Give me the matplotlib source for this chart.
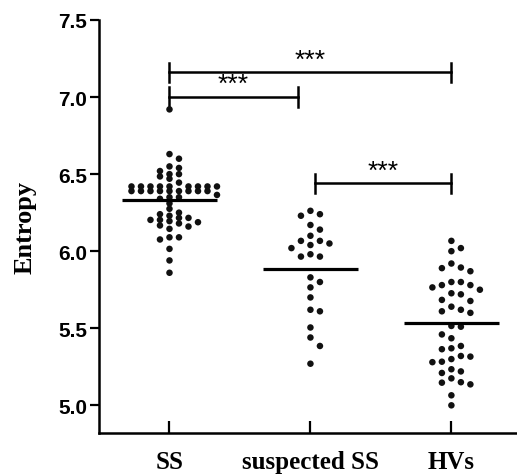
import matplotlib.pyplot as plt
import numpy as np

# grupy i wartosci entropii
grupy = ["SS", "suspected SS", "HVs"]
ss = [6.92, 6.63, 6.60, 6.55, 6.54, 6.52, 6.50, 6.50, 6.485, 6.47,
      6.42, 6.42, 6.42, 6.42, 6.42, 6.42, 6.42, 6.42, 6.42,
      6.39, 6.39, 6.39, 6.39, 6.39, 6.39, 6.39, 6.39, 6.39,
      6.445, 6.365, 6.35, 6.35, 6.34,
      6.31, 6.275, 6.25, 6.24, 6.23, 6.216, 6.216, 6.203, 6.203, 6.195,
      6.188, 6.18, 6.167, 6.16, 6.145, 6.09, 6.09, 6.076, 6.015, 5.94, 5.86]
podejrzane = [6.262, 6.24, 6.23, 6.17, 6.14, 6.10, 6.067, 6.067, 6.05, 6.04,
              6.02, 5.98, 5.965, 5.965, 5.83, 5.80, 5.765, 5.70, 5.62, 5.61,
              5.505, 5.44, 5.385, 5.27]
hv = [6.067, 6.02, 6.00, 5.92, 5.894, 5.89, 5.87, 5.80, 5.80, 5.78, 5.78,
      5.765, 5.75, 5.727, 5.72, 5.684, 5.677, 5.64, 5.62, 5.61, 5.60,
      5.515, 5.51, 5.46, 5.435, 5.385, 5.37, 5.364, 5.32, 5.316, 5.30,
      5.283, 5.28, 5.234, 5.22, 5.21, 5.175, 5.15, 5.147, 5.136, 5.065, 5.00]
srednie = [6.33, 5.883, 5.537]

# porownania: (od, do, wysokosc)
porownania = [(0, 2, 7.16), (0, 0.91, 7.0), (1.03, 2, 6.44)]

fig = plt.figure(figsize=(5.17, 4.77), dpi=100)
ax = fig.add_axes([0.1915, 0.090, 0.807, 0.866])
ax.set_xlim(-0.5, 2.46)
ax.set_ylim(4.82, 7.5)


#rozmieszczenie punktow - wiersze jak w GraphPad
def rozrzut(wartosci, srodek, odstep, krok=9.5, wiersz=0.04):
    wartosci = np.array(wartosci)
    pts = ax.transData.transform(np.column_stack([np.full(len(wartosci), srodek), wartosci]))
    biny = np.floor((wartosci - 5.0) / wiersz + 1e-9)
    kolejnosc = np.argsort(-wartosci, kind="stable")
    polozone = []
    xs = np.zeros(len(wartosci))
    for i in kolejnosc:
        y = pts[i, 1]
        for k in [0, 1, -1, 2, -2, 3, -3, 4, -4, 5, -5, 6, -6, 7, -7]:
            x = pts[i, 0] + k * krok
            ok = True
            for px, py, b in polozone:
                if (x - px) ** 2 + (y - py) ** 2 < odstep ** 2:
                    ok = False
                if b == biny[i] and abs(x - px) < 1:
                    ok = False
            if ok:
                break
        polozone.append((x, y, biny[i]))
        xs[i] = x
    return ax.transData.inverted().transform(np.column_stack([xs, pts[:, 1]]))[:, 0]


for i, (dane, od) in enumerate(zip([ss, podejrzane, hv], [4.5, 8.5, 8.5])):
    x = rozrzut(dane, i, od)
    ax.scatter(x, dane, s=22, color="#111111", edgecolors="none", zorder=3)
    ax.hlines(srednie[i], i - 0.335, i + 0.335, color="black", lw=2.3, zorder=4)

for a, b, h in porownania:
    ax.plot([a, b], [h, h], color="black", lw=1.8)
    ax.plot([a, a], [h - 0.062, h + 0.062], color="black", lw=1.8)
    ax.plot([b, b], [h - 0.062, h + 0.062], color="black", lw=1.8)
    ax.text((a + b) / 2, h + 0.005, "***", ha="center", va="bottom",
            fontsize=19, family="Liberation Sans")

ax.spines["top"].set_visible(False)
ax.spines["right"].set_visible(False)
ax.spines["left"].set_linewidth(1.8)
ax.spines["bottom"].set_linewidth(1.8)

ax.set_yticks([5.0, 5.5, 6.0, 6.5, 7.0, 7.5])
ax.set_yticklabels(["5.0", "5.5", "6.0", "6.5", "7.0", "7.5"],
                   fontsize=15, fontweight="bold", family="Liberation Sans")
ax.set_xticks([0, 1, 2])
ax.set_xticklabels(grupy, fontsize=18, fontweight="bold", family="Liberation Serif")
ax.tick_params(axis="y", direction="out", length=6.5, width=1.6, pad=2)
ax.tick_params(axis="x", direction="in", length=8.5, width=1.6, pad=12)

ax.set_ylabel("Entropy", fontsize=19, fontweight="bold", family="Liberation Serif")
ax.yaxis.set_label_coords(-0.15, 0.5)

plt.savefig("out.png", dpi=100)
